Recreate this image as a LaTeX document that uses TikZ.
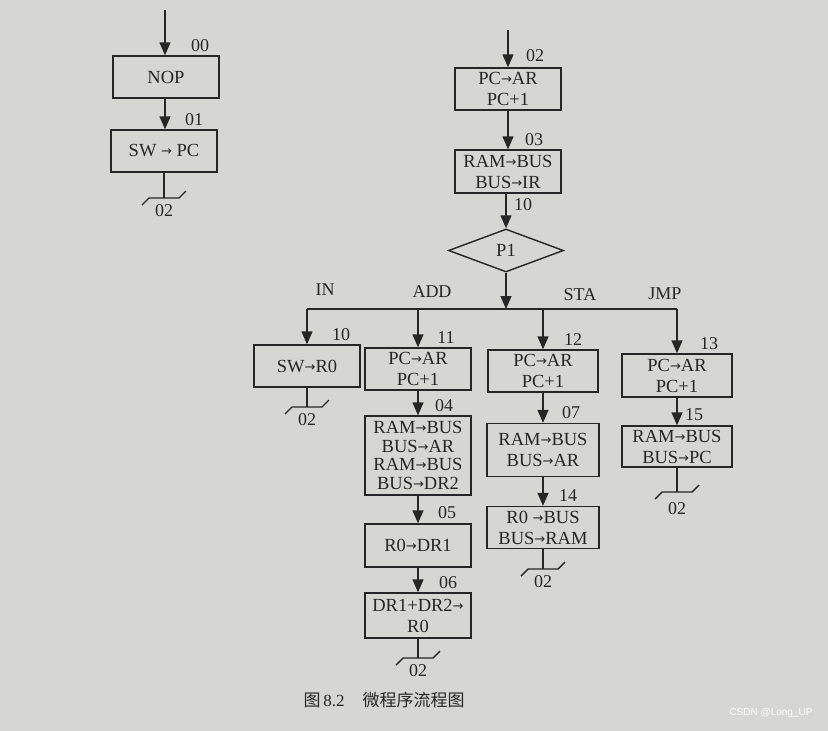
\documentclass[tikz,border=0pt]{standalone}
\usepackage{fontspec}
\setmainfont{Liberation Serif}
\newfontfamily\arrowfnt{DejaVu Sans}
\newfontfamily\cjkfnt{Noto Sans CJK SC}
\newfontfamily\wmfnt{Liberation Sans}
\usetikzlibrary{arrows.meta,shapes.geometric,calc}
\definecolor{paper}{RGB}{214,214,211}
\definecolor{ink}{RGB}{38,38,38}
\newcommand\ra{{\arrowfnt\fontsize{13}{13}\selectfont\raisebox{1pt}{→}}}
\begin{document}
\begin{tikzpicture}[x=1pt,y=-1pt,
  every node/.style={text=ink},
  box/.style={draw=ink, line width=1.4pt, minimum width=106pt, minimum height=42pt,
    align=center, inner sep=1pt, font=\fontsize{18.5}{21}\selectfont},
  dia/.style={draw=ink, line width=1.4pt, diamond, aspect=2.67, inner sep=0pt,
    minimum width=115pt, minimum height=43pt, font=\fontsize{18.5}{20}\selectfont},
  flow/.style={draw=ink, line width=1.4pt, -{Triangle[length=13pt,width=11pt]}},
  plain/.style={draw=ink, line width=1.4pt},
  num/.style={font=\fontsize{18}{18}\selectfont, inner sep=0pt},
  brk/.pic={\draw[plain] (-22,7) -- (-15,0) -- (15,0) -- (22,-7);}
]
\fill[paper] (0,0) rectangle (828,731);
\useasboundingbox (0,0) rectangle (828,731);

% left column
\coordinate (s0) at (165,10);
\node[box] (nop) at (166,77) {NOP};
\node[box] (swpc) at (164,151) {SW \ra\ PC};
\coordinate (e01) at (164,198);
\draw[flow] (s0) -- (s0 |- nop.north);
\draw[flow] (nop.south -| s0) -- (s0 |- swpc.north);
\draw[plain] (swpc.south -| e01) -- (e01);
\pic at (e01) {brk};
\node[num] (l00) at ($(nop.north)+(34,-10)$) {00};
\node[num] (l01) at ($(swpc.north)+(30,-10)$) {01};
\node[num] (t01) at ($(e01)+(0,13)$) {02};

% main column
\coordinate (s2) at (508,30);
\node[box] (b02) at (508,89) {PC\ra AR\\PC+1};
\node[box, minimum height=43pt] (b03) at (508,171.5) {RAM\ra BUS\\BUS\ra IR};
\node[dia] (p1) at (506,250.5) {P1};
\coordinate (hj) at (506,309);
\draw[flow] (s2) -- (b02.north);
\draw[flow] (b02.south) -- (b03.north);
\draw[flow] (b03.south -| p1.north) -- (p1.north);
\draw[flow] (p1.south) -- (hj);
\node[num] (l02) at ($(b02.north)+(27,-12)$) {02};
\node[num] (l03) at ($(b03.north)+(26,-10)$) {03};
\node[num] (l10a) at ($(p1.north)+(17,-24)$) {10};

% branch corners
\coordinate (cin) at (307,309);
\coordinate (cadd) at (418,309);
\coordinate (csta) at (543,309);
\coordinate (cjmp) at (677,309);
\draw[plain] (cin) -- (cjmp);
\node[num] (tin) at (325,290) {IN};
\node[num] (tadd) at (432,292) {ADD};
\node[num] (tsta) at (580,295) {STA};
\node[num] (tjmp) at (665,294) {JMP};

% IN
\node[box] (b10) at (307,366) {SW\ra R0};
\coordinate (e10) at (307,407);
\draw[flow] (cin) -- (b10.north);
\draw[plain] (b10.south) -- (e10);
\pic at (e10) {brk};
\node[num] (l10) at ($(b10.north)+(34,-10)$) {10};
\node[num] (t10) at ($(e10)+(0,13)$) {02};

% ADD
\node[box] (b11) at (418,369) {PC\ra AR\\PC+1};
\node[box, minimum height=79pt, font=\fontsize{18.5}{18.5}\selectfont] (b04) at (418,455.5)
  {RAM\ra BUS\\BUS\ra AR\\RAM\ra BUS\\BUS\ra DR2};
\node[box, minimum height=43pt] (b05) at (418,545.5) {R0\ra DR1};
\node[box, minimum height=45pt] (b06) at (418,615.5) {DR1+DR2\ra\\R0};
\coordinate (e06) at (418,658);
\draw[flow] (cadd) -- (b11.north);
\draw[flow] (b11.south) -- (b04.north);
\draw[flow] (b04.south) -- (b05.north);
\draw[flow] (b05.south) -- (b06.north);
\draw[plain] (b06.south) -- (e06);
\pic at (e06) {brk};
\node[num] (l11) at ($(b11.north)+(28,-10)$) {11};
\node[num] (l04) at ($(b04.north)+(26,-10)$) {04};
\node[num] (l05) at ($(b05.north)+(29,-11)$) {05};
\node[num] (l06) at ($(b06.north)+(30,-10)$) {06};
\node[num] (t06) at ($(e06)+(0,13)$) {02};

% STA
\node[box, minimum width=110pt] (b12) at (543,371) {PC\ra AR\\PC+1};
\node[box, minimum width=112pt, minimum height=53pt] (b07) at (543,450) {RAM\ra BUS\\BUS\ra AR};
\node[box, minimum width=112pt] (b14) at (543,527.5) {R0\ \ra BUS\\BUS\ra RAM};
\coordinate (e14) at (543,569);
\draw[flow] (csta) -- (b12.north);
\draw[flow] (b12.south) -- (b07.north);
\draw[flow] (b07.south) -- (b14.north);
\draw[plain] (b14.south) -- (e14);
\pic at (e14) {brk};
\node[num] (l12) at ($(b12.north)+(30,-10)$) {12};
\node[num] (l07) at ($(b07.north)+(28,-10)$) {07};
\node[num] (l14) at ($(b14.north)+(25,-10)$) {14};
\node[num] (t14) at ($(e14)+(0,13)$) {02};

% JMP
\node[box, minimum width=110pt, minimum height=43pt] (b13) at (677,375.5) {PC\ra AR\\PC+1};
\node[box, minimum width=110pt, minimum height=41pt] (b15) at (677,446.5) {RAM\ra BUS\\BUS\ra PC};
\coordinate (e15) at (677,492);
\draw[flow] (cjmp) -- (b13.north);
\draw[flow] (b13.south) -- (b15.north);
\draw[plain] (b15.south) -- (e15);
\pic at (e15) {brk};
\node[num] (l13) at ($(b13.north)+(32,-10)$) {13};
\node[num] (l15) at ($(b15.north)+(17,-11)$) {15};
\node[num] (t15) at ($(e15)+(0,17)$) {02};

% caption and watermark
\node[font=\fontsize{17}{17}\selectfont, anchor=west] (cap) at (300,700)
  {{\cjkfnt 图}\,8.2\hspace{18pt}{\cjkfnt 微程序流程图}};
\node[font=\wmfnt\fontsize{10}{10}\selectfont, text=white, anchor=east] (wm) at (816,713) {CSDN @Long\_UP};
\end{tikzpicture}
\end{document}
